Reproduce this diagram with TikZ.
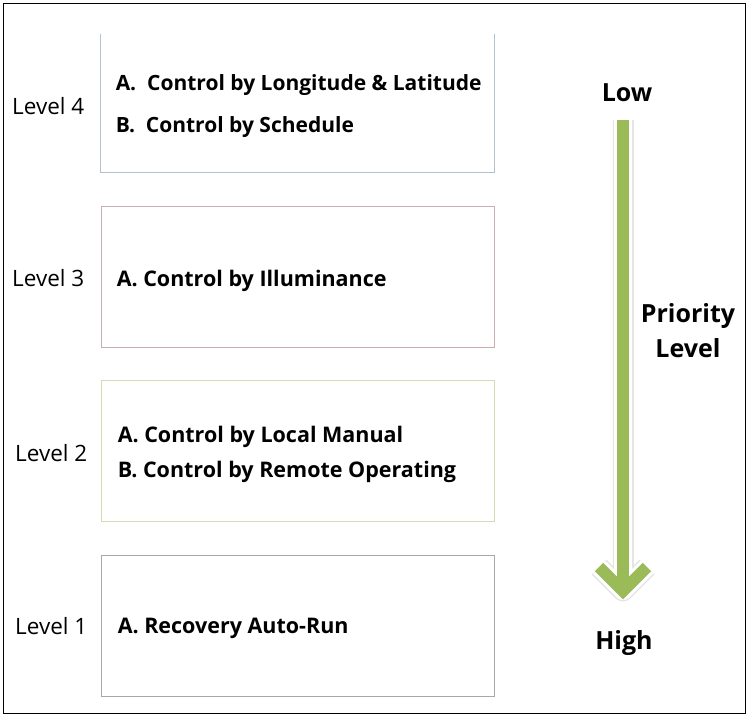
\documentclass[tikz,border=0pt]{standalone}
\usepackage{fontspec}
\setmainfont{Open Sans}
\usetikzlibrary{positioning}
\definecolor{ArrowGreen}{HTML}{9BBB59}
\definecolor{BoxBlue}{HTML}{B2C2CD}
\definecolor{BoxRose}{HTML}{C9AEB0}
\definecolor{BoxOlive}{HTML}{D8DAB3}
\definecolor{BoxGray}{HTML}{A8A8A8}

\tikzset{
    levellabel/.style={anchor=west, inner sep=0pt, font=\fontsize{22.5}{26}\selectfont},
    levelbox/.style={minimum width=393pt, minimum height=141pt, line width=0.9pt},
    itemtext/.style={anchor=west, inner sep=0pt, align=left,
        font=\bfseries\fontsize{21.5}{35}\selectfont},
    endlabel/.style={font=\bfseries\fontsize{25}{28}\selectfont},
}

\begin{document}
\begin{tikzpicture}[x=1pt, y=-1pt]
    \useasboundingbox (0,0) rectangle (750,718);
    \fill[white] (0,0) rectangle (750,718);

    % Outer frame
    \draw[line width=1.3pt] (3.5,3.5) rectangle (745.5,713.5);

    % Level boxes (the top one is open at the top)
    \node[levelbox, minimum height=138pt] (box4) at (297.5,103) {};
    \draw[BoxBlue, line width=0.9pt] (box4.north west) |- (box4.south east) -- (box4.north east);
    \node[levelbox, draw=BoxRose] (box3) at (297.5,276.5) {};
    \node[levelbox, draw=BoxOlive] (box2) at (297.5,450.5) {};
    \node[levelbox, draw=BoxGray] (box1) at (297.5,625.5) {};

    % Box contents
    \node[itemtext, font=\bfseries\fontsize{21}{42}\selectfont] (item4) at ([xshift=15pt,yshift=-3pt]box4.west)
        {A.\ \ Control by Longitude \& Latitude\\B.\ \ Control by Schedule};
    \node[itemtext] (item3) at ([xshift=16pt,yshift=-4pt]box3.west) {A. Control by Illuminance};
    \node[itemtext] (item2) at ([xshift=17pt,yshift=-4pt]box2.west)
        {A. Control by Local Manual\\B. Control by Remote Operating};
    \node[itemtext] (item1) at ([xshift=17pt,yshift=-3pt]box1.west) {A. Recovery Auto-Run};

    % Level labels
    \node[levellabel] (lev4) at (12,106) {Level 4};
    \node[levellabel] (lev3) at (12,278) {Level 3};
    \node[levellabel] (lev2) at (15,453) {Level 2};
    \node[levellabel] (lev1) at (15,626) {Level 1};

    % Priority arrow
    \node[endlabel] (low) at (627,93) {Low};
    \node[endlabel] (high) at (624,643) {High};
    \coordinate (top) at (623,120);
    \coordinate (tip) at (623,591);
    \coordinate (wingl) at (599,567);
    \coordinate (wingr) at (647,567);
    \draw[gray!20, line width=21pt] (top) -- (tip);
    \draw[gray!20, line width=21pt, line join=round] (wingl) -- (tip) -- (wingr);
    \draw[white, line width=18pt] (top) -- (tip);
    \draw[white, line width=18pt, line join=round] (wingl) -- (tip) -- (wingr);
    \draw[ArrowGreen, line width=12pt] (top) -- (tip);
    \draw[ArrowGreen, line width=12pt, line join=miter] (wingl) -- (tip) -- (wingr);
    \node[endlabel, align=center, font=\bfseries\fontsize{25}{35}\selectfont]
        (prio) at (688,330.5) {Priority\\Level};
\end{tikzpicture}
\end{document}
